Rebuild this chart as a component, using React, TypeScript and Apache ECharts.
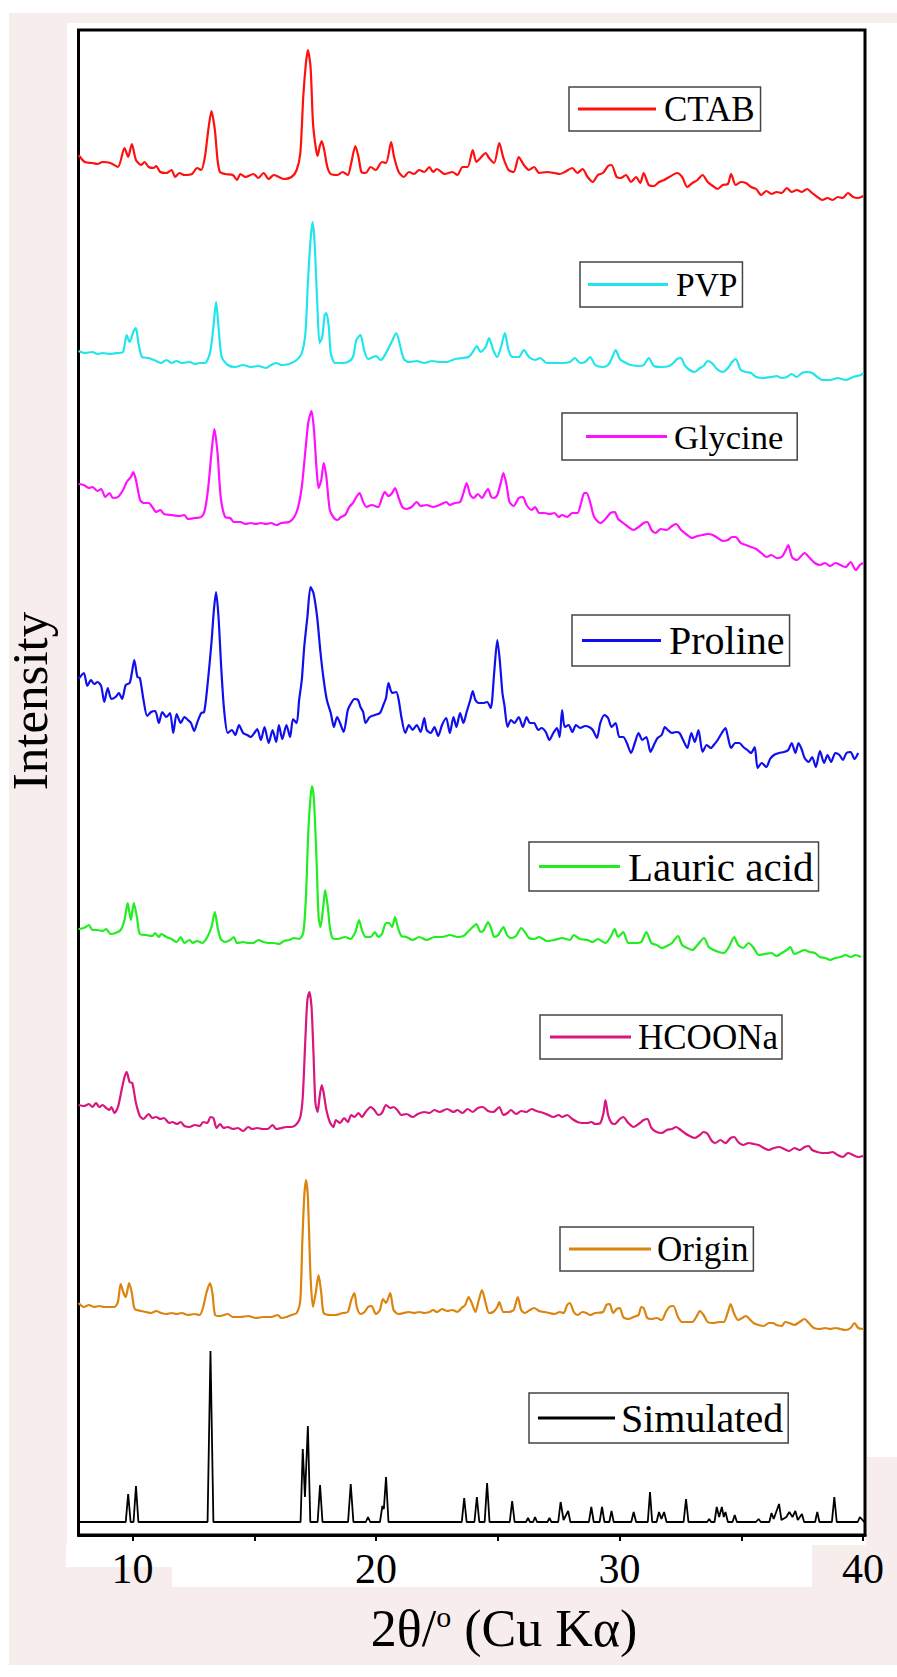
import React, { useEffect, useRef } from "react";
import * as echarts from "echarts";

// ---------- data (2θ in degrees, intensity in arbitrary stacked units) ----------
const seriesNames = ["CTAB", "PVP", "Glycine", "Proline", "Lauric acid", "HCOONa", "Origin", "Simulated"];
const seriesColors = ["#ff1010", "#20e6ec", "#ff10ff", "#1010ee", "#20ee20", "#d8177e", "#dc8410", "#000000"];

const xTickValues = [10, 15, 20, 25, 30, 35, 40];
const xLabelValues = [10, 20, 30, 40];

const ctab = [[7.78,1382],[8.04,1375],[8.35,1374],[8.56,1373],[8.77,1375],[9.09,1374],[9.40,1370],[9.67,1389],[9.82,1380],[9.97,1393],[10.14,1377],[10.35,1372],[10.49,1375],[10.66,1370],[10.87,1369],[10.97,1371],[11.14,1365],[11.39,1364],[11.60,1367],[11.75,1360],[11.92,1364],[12.13,1362],[12.44,1363],[12.65,1369],[12.82,1367],[12.97,1380],[13.11,1407],[13.24,1426],[13.38,1407],[13.49,1377],[13.59,1365],[13.80,1363],[14.12,1362],[14.29,1357],[14.43,1363],[14.64,1360],[14.96,1363],[15.17,1359],[15.38,1364],[15.59,1358],[15.80,1362],[16.01,1360],[16.22,1358],[16.53,1360],[16.74,1367],[16.89,1384],[17.01,1440],[17.12,1474],[17.20,1487],[17.31,1470],[17.41,1414],[17.52,1390],[17.60,1381],[17.68,1390],[17.77,1396],[17.87,1387],[18.00,1370],[18.14,1363],[18.42,1362],[18.63,1365],[18.84,1362],[18.98,1374],[19.15,1391],[19.28,1380],[19.40,1365],[19.57,1364],[19.78,1370],[19.99,1367],[20.24,1375],[20.41,1374],[20.62,1395],[20.74,1380],[20.93,1365],[21.14,1360],[21.35,1365],[21.56,1363],[21.77,1367],[21.98,1365],[22.19,1370],[22.34,1365],[22.50,1368],[22.82,1363],[23.13,1365],[23.34,1362],[23.55,1370],[23.76,1370],[23.97,1387],[24.12,1375],[24.29,1379],[24.50,1384],[24.64,1379],[24.85,1374],[25.06,1394],[25.23,1379],[25.44,1367],[25.65,1365],[25.86,1380],[26.07,1372],[26.28,1367],[26.49,1370],[26.70,1364],[27.01,1365],[27.33,1364],[27.54,1363],[27.75,1365],[28.06,1369],[28.27,1364],[28.48,1368],[28.69,1360],[28.90,1355],[29.11,1362],[29.32,1364],[29.53,1371],[29.67,1372],[29.88,1360],[30.05,1359],[30.26,1362],[30.47,1355],[30.68,1360],[30.85,1354],[30.99,1364],[31.20,1352],[31.41,1351],[31.62,1355],[31.83,1357],[32.04,1360],[32.36,1364],[32.57,1360],[32.78,1350],[32.99,1354],[33.20,1357],[33.41,1362],[33.62,1355],[33.83,1351],[34.03,1348],[34.24,1352],[34.45,1353],[34.58,1363],[34.77,1352],[34.98,1355],[35.19,1354],[35.40,1350],[35.61,1348],[35.82,1342],[36.03,1346],[36.24,1343],[36.45,1345],[36.66,1344],[36.87,1349],[37.07,1345],[37.28,1347],[37.49,1345],[37.70,1348],[37.91,1344],[38.12,1340],[38.33,1337],[38.54,1339],[38.75,1337],[38.96,1340],[39.17,1339],[39.38,1344],[39.59,1340],[39.80,1339],[40.01,1341]];

const pvp = [[7.78,1186],[8.04,1184],[8.35,1185],[8.56,1183],[8.77,1184],[9.09,1183],[9.40,1184],[9.61,1185],[9.76,1202],[9.88,1195],[10.03,1205],[10.14,1209],[10.24,1194],[10.39,1180],[10.66,1179],[10.97,1176],[11.18,1174],[11.39,1177],[11.60,1174],[11.81,1176],[12.02,1174],[12.34,1175],[12.55,1173],[12.76,1174],[12.97,1174],[13.18,1184],[13.32,1210],[13.43,1235],[13.53,1210],[13.66,1180],[13.91,1172],[14.22,1170],[14.54,1172],[14.85,1170],[15.17,1171],[15.48,1169],[15.69,1172],[15.90,1174],[16.11,1172],[16.43,1173],[16.74,1177],[16.95,1184],[17.10,1204],[17.20,1254],[17.31,1297],[17.39,1315],[17.47,1297],[17.58,1237],[17.68,1194],[17.79,1200],[17.89,1222],[17.96,1224],[18.06,1210],[18.14,1184],[18.31,1174],[18.52,1174],[18.84,1175],[19.05,1180],[19.19,1197],[19.36,1202],[19.51,1187],[19.67,1178],[19.88,1180],[19.99,1181],[20.20,1177],[20.41,1184],[20.62,1194],[20.83,1204],[21.00,1190],[21.14,1178],[21.35,1175],[21.67,1176],[21.98,1174],[22.30,1176],[22.61,1175],[22.92,1175],[23.24,1178],[23.55,1179],[23.80,1180],[23.97,1185],[24.14,1191],[24.29,1185],[24.50,1190],[24.64,1199],[24.81,1187],[24.98,1180],[25.13,1190],[25.29,1204],[25.44,1187],[25.61,1180],[25.86,1180],[26.07,1187],[26.28,1180],[26.53,1177],[26.74,1179],[27.01,1174],[27.33,1174],[27.64,1174],[27.96,1175],[28.17,1179],[28.38,1174],[28.59,1175],[28.79,1180],[29.00,1172],[29.32,1170],[29.53,1172],[29.67,1178],[29.84,1187],[30.01,1178],[30.26,1174],[30.47,1172],[30.78,1171],[30.99,1172],[31.20,1179],[31.41,1171],[31.73,1170],[32.04,1171],[32.25,1175],[32.36,1178],[32.52,1179],[32.67,1172],[32.88,1167],[33.09,1165],[33.30,1169],[33.45,1171],[33.62,1176],[33.79,1174],[34.00,1168],[34.24,1165],[34.45,1169],[34.62,1175],[34.77,1178],[34.98,1167],[35.19,1165],[35.40,1164],[35.61,1160],[35.92,1159],[36.24,1160],[36.45,1161],[36.66,1159],[36.87,1160],[37.07,1163],[37.28,1160],[37.49,1164],[37.70,1165],[37.91,1164],[38.12,1160],[38.33,1157],[38.64,1157],[38.96,1159],[39.28,1157],[39.59,1160],[39.91,1162],[40.01,1164]];

const glycine = [[7.78,1053],[8.00,1052],[8.21,1049],[8.35,1050],[8.56,1046],[8.71,1048],[8.88,1040],[9.05,1044],[9.19,1039],[9.40,1040],[9.61,1047],[9.76,1055],[9.93,1060],[10.03,1065],[10.14,1057],[10.31,1037],[10.45,1034],[10.66,1034],[10.81,1030],[10.97,1025],[11.14,1027],[11.29,1023],[11.60,1022],[11.92,1021],[12.13,1022],[12.27,1018],[12.55,1019],[12.82,1020],[12.97,1027],[13.11,1050],[13.24,1084],[13.36,1108],[13.49,1084],[13.62,1040],[13.80,1020],[14.01,1019],[14.16,1015],[14.43,1015],[14.64,1013],[14.85,1014],[15.06,1013],[15.27,1014],[15.48,1013],[15.69,1014],[15.90,1012],[16.11,1014],[16.43,1015],[16.64,1020],[16.80,1030],[16.95,1050],[17.10,1087],[17.22,1115],[17.35,1126],[17.45,1107],[17.56,1067],[17.64,1049],[17.75,1057],[17.85,1074],[17.96,1060],[18.10,1027],[18.27,1019],[18.42,1017],[18.56,1020],[18.73,1022],[18.90,1030],[19.05,1034],[19.19,1040],[19.32,1044],[19.47,1035],[19.61,1030],[19.82,1032],[20.09,1030],[20.24,1039],[20.36,1045],[20.51,1041],[20.66,1044],[20.78,1049],[20.93,1039],[21.08,1030],[21.25,1028],[21.46,1030],[21.67,1035],[21.83,1031],[22.08,1032],[22.34,1030],[22.61,1032],[22.88,1035],[23.03,1032],[23.24,1034],[23.45,1035],[23.59,1044],[23.72,1054],[23.87,1042],[24.01,1039],[24.18,1043],[24.35,1039],[24.50,1045],[24.60,1048],[24.73,1040],[24.85,1039],[24.98,1042],[25.12,1054],[25.23,1064],[25.36,1052],[25.48,1035],[25.65,1031],[25.86,1039],[26.03,1040],[26.18,1032],[26.39,1027],[26.53,1030],[26.70,1024],[26.91,1024],[27.12,1023],[27.33,1024],[27.50,1020],[27.64,1022],[27.85,1020],[28.06,1024],[28.27,1024],[28.42,1034],[28.55,1044],[28.65,1044],[28.79,1035],[28.96,1020],[29.21,1014],[29.42,1018],[29.63,1024],[29.80,1025],[29.94,1018],[30.15,1014],[30.36,1010],[30.57,1007],[30.78,1010],[30.99,1014],[31.14,1015],[31.31,1007],[31.48,1004],[31.69,1008],[31.94,1007],[32.15,1011],[32.32,1013],[32.53,1007],[32.78,1002],[32.99,999],[33.20,1001],[33.41,1002],[33.62,1003],[33.83,1002],[34.03,999],[34.24,996],[34.45,997],[34.62,1000],[34.77,1000],[34.98,994],[35.19,992],[35.40,990],[35.61,988],[35.82,984],[36.03,980],[36.24,982],[36.45,979],[36.66,980],[36.83,987],[36.93,992],[37.08,980],[37.28,977],[37.60,984],[37.81,979],[38.02,974],[38.23,972],[38.44,974],[38.65,971],[38.86,974],[39.07,972],[39.28,970],[39.49,975],[39.70,967],[39.87,972],[40.01,974]];

const proline = [[7.78,858],[8.00,864],[8.14,851],[8.29,857],[8.42,853],[8.56,855],[8.71,851],[8.84,835],[8.98,849],[9.13,838],[9.30,840],[9.44,844],[9.57,838],[9.72,852],[9.88,854],[9.97,864],[10.07,877],[10.20,860],[10.30,859],[10.45,837],[10.60,821],[10.76,825],[10.93,826],[11.08,814],[11.22,825],[11.39,820],[11.54,824],[11.67,804],[11.81,823],[11.98,814],[12.13,820],[12.27,817],[12.40,814],[12.53,806],[12.65,814],[12.82,824],[12.94,825],[13.07,850],[13.24,894],[13.34,927],[13.43,945],[13.53,920],[13.64,870],[13.76,827],[13.91,804],[14.08,807],[14.22,802],[14.37,812],[14.54,804],[14.71,802],[14.85,800],[15.00,804],[15.12,808],[15.27,797],[15.42,810],[15.59,794],[15.75,807],[15.90,795],[16.01,812],[16.15,798],[16.32,812],[16.47,800],[16.59,818],[16.74,814],[16.84,837],[16.95,857],[17.05,890],[17.18,920],[17.31,950],[17.43,944],[17.58,920],[17.72,884],[17.85,857],[17.98,837],[18.14,824],[18.27,810],[18.40,820],[18.52,814],[18.67,805],[18.84,827],[18.98,834],[19.11,838],[19.26,837],[19.36,830],[19.47,825],[19.57,814],[19.74,820],[19.95,822],[20.16,824],[20.30,832],[20.41,839],[20.51,854],[20.66,844],[20.83,845],[20.93,837],[21.04,820],[21.20,804],[21.35,812],[21.50,807],[21.67,812],[21.83,805],[21.98,819],[22.08,807],[22.25,804],[22.40,810],[22.55,801],[22.71,812],[22.88,819],[23.03,804],[23.18,820],[23.30,810],[23.45,824],[23.59,814],[23.72,825],[23.87,837],[23.97,846],[24.08,837],[24.22,834],[24.39,834],[24.56,835],[24.71,829],[24.85,864],[24.98,897],[25.08,877],[25.19,844],[25.27,832],[25.40,810],[25.54,817],[25.69,814],[25.86,820],[26.03,810],[26.18,820],[26.32,814],[26.49,814],[26.66,807],[26.80,809],[26.97,805],[27.12,797],[27.28,804],[27.43,809],[27.54,800],[27.64,827],[27.75,810],[27.91,812],[28.06,805],[28.21,812],[28.38,809],[28.59,811],[28.75,810],[28.90,807],[29.07,799],[29.21,814],[29.38,822],[29.53,819],[29.67,810],[29.84,814],[29.99,800],[30.15,800],[30.30,794],[30.47,784],[30.64,795],[30.78,804],[30.93,797],[31.10,800],[31.27,785],[31.41,792],[31.56,799],[31.73,802],[31.86,810],[31.98,807],[32.15,804],[32.32,805],[32.46,804],[32.61,797],[32.78,789],[32.95,804],[33.09,795],[33.24,807],[33.41,785],[33.58,792],[33.75,789],[33.87,792],[34.03,797],[34.20,804],[34.35,809],[34.45,800],[34.58,789],[34.75,794],[34.92,794],[35.08,790],[35.25,787],[35.40,784],[35.55,790],[35.67,769],[35.84,774],[36.03,770],[36.18,778],[36.34,782],[36.55,784],[36.76,785],[36.93,787],[37.07,794],[37.22,784],[37.35,794],[37.49,787],[37.60,779],[37.77,775],[37.91,780],[38.06,770],[38.23,786],[38.40,774],[38.54,782],[38.69,775],[38.86,784],[39.03,782],[39.17,777],[39.32,784],[39.49,785],[39.65,778],[39.80,784]];

const lauric = [[7.78,608],[8.00,609],[8.21,612],[8.35,607],[8.56,607],[8.77,606],[8.92,608],[9.09,603],[9.30,604],[9.51,607],[9.67,617],[9.80,634],[9.93,617],[10.05,634],[10.18,620],[10.30,603],[10.55,602],[10.81,601],[10.93,604],[11.08,600],[11.18,603],[11.39,600],[11.60,598],[11.81,595],[11.98,600],[12.13,594],[12.34,597],[12.48,594],[12.65,596],[12.86,594],[13.07,600],[13.24,610],[13.38,625],[13.49,610],[13.62,598],[13.80,595],[14.01,597],[14.16,600],[14.29,594],[14.54,595],[14.75,594],[14.96,594],[15.17,597],[15.38,595],[15.59,594],[15.80,594],[16.01,593],[16.22,596],[16.43,597],[16.64,599],[16.84,598],[17.01,604],[17.12,640],[17.22,707],[17.31,740],[17.37,751],[17.45,737],[17.56,674],[17.64,620],[17.72,610],[17.83,630],[17.91,647],[18.02,630],[18.10,610],[18.21,599],[18.42,598],[18.73,600],[18.94,598],[19.15,605],[19.30,617],[19.42,607],[19.57,600],[19.78,600],[19.95,605],[20.09,600],[20.24,603],[20.41,614],[20.53,614],[20.66,610],[20.78,620],[20.89,610],[21.04,601],[21.25,600],[21.50,597],[21.77,600],[22.08,597],[22.40,600],[22.71,600],[23.03,602],[23.34,600],[23.59,601],[23.76,605],[23.97,610],[24.12,613],[24.29,605],[24.43,607],[24.60,615],[24.75,607],[24.85,600],[25.02,602],[25.23,610],[25.38,602],[25.54,599],[25.75,601],[25.96,609],[26.11,605],[26.28,599],[26.49,598],[26.70,600],[27.01,596],[27.33,597],[27.64,599],[27.96,597],[28.12,602],[28.38,598],[28.69,597],[28.90,595],[29.11,598],[29.42,594],[29.63,600],[29.80,608],[29.94,600],[30.15,605],[30.36,594],[30.64,594],[30.89,595],[31.10,605],[31.31,594],[31.52,592],[31.73,589],[31.94,591],[32.15,594],[32.40,601],[32.57,592],[32.78,589],[32.99,587],[33.20,592],[33.47,599],[33.66,590],[33.87,587],[34.08,585],[34.28,584],[34.49,590],[34.71,600],[34.87,592],[35.08,589],[35.30,594],[35.51,589],[35.71,582],[35.97,583],[36.24,584],[36.45,581],[36.66,584],[36.87,587],[37.01,590],[37.18,583],[37.39,585],[37.60,587],[37.81,585],[38.02,584],[38.23,580],[38.44,579],[38.65,577],[38.86,579],[39.07,580],[39.28,582],[39.49,580],[39.70,582],[39.91,580]];

const hcoona = [[7.78,432],[8.00,431],[8.21,433],[8.35,430],[8.50,434],[8.63,430],[8.77,432],[8.92,429],[9.05,427],[9.13,430],[9.26,424],[9.40,430],[9.55,447],[9.67,460],[9.76,465],[9.88,455],[9.99,454],[10.14,434],[10.30,421],[10.45,418],[10.66,423],[10.81,419],[10.97,420],[11.14,418],[11.29,419],[11.50,414],[11.64,415],[11.81,413],[11.98,415],[12.13,411],[12.34,410],[12.55,412],[12.76,411],[12.90,415],[13.07,414],[13.20,420],[13.32,419],[13.45,409],[13.59,413],[13.74,409],[13.91,410],[14.12,408],[14.33,409],[14.54,406],[14.75,410],[14.92,408],[15.12,409],[15.34,408],[15.55,408],[15.75,412],[15.90,408],[16.11,409],[16.32,410],[16.53,410],[16.74,413],[16.89,420],[16.99,440],[17.10,500],[17.18,537],[17.26,545],[17.35,530],[17.43,484],[17.51,434],[17.60,425],[17.68,440],[17.77,452],[17.85,444],[17.96,427],[18.10,415],[18.25,410],[18.35,417],[18.52,414],[18.69,419],[18.84,415],[18.98,422],[19.11,420],[19.28,424],[19.42,420],[19.57,425],[19.78,430],[19.93,427],[20.09,422],[20.24,424],[20.41,432],[20.58,429],[20.72,430],[20.87,427],[21.04,422],[21.25,423],[21.50,420],[21.71,423],[21.98,425],[22.19,424],[22.40,427],[22.61,425],[22.92,428],[23.18,425],[23.34,427],[23.55,424],[23.76,428],[23.97,425],[24.18,429],[24.39,430],[24.60,426],[24.81,425],[25.06,430],[25.23,422],[25.40,424],[25.54,427],[25.75,423],[25.96,426],[26.18,425],[26.39,428],[26.59,426],[26.87,424],[27.08,422],[27.28,420],[27.50,422],[27.64,420],[27.85,422],[28.06,418],[28.27,415],[28.48,414],[28.69,414],[28.84,415],[29.00,413],[29.21,414],[29.34,424],[29.42,437],[29.53,422],[29.67,414],[29.80,413],[30.01,418],[30.15,420],[30.36,414],[30.57,410],[30.78,413],[30.99,417],[31.14,418],[31.31,409],[31.52,405],[31.73,404],[31.94,407],[32.15,408],[32.32,410],[32.46,408],[32.67,404],[32.88,401],[33.09,399],[33.30,402],[33.45,405],[33.62,403],[33.79,396],[33.93,394],[34.14,397],[34.35,394],[34.56,399],[34.71,400],[34.87,395],[35.08,392],[35.30,394],[35.51,393],[35.71,392],[35.92,389],[36.13,387],[36.34,389],[36.55,390],[36.76,388],[36.97,386],[37.18,389],[37.39,387],[37.60,390],[37.77,391],[37.91,387],[38.12,385],[38.33,384],[38.54,384],[38.75,385],[38.96,382],[39.17,380],[39.38,384],[39.59,382],[39.80,380],[40.01,381]];

const origin = [[7.78,234],[8.00,230],[8.21,232],[8.42,230],[8.63,231],[8.84,230],[9.05,230],[9.26,230],[9.40,235],[9.51,253],[9.63,244],[9.72,240],[9.86,254],[9.97,244],[10.09,228],[10.35,226],[10.55,225],[10.76,224],[10.97,226],[11.18,224],[11.39,223],[11.60,224],[11.81,223],[12.02,224],[12.27,222],[12.55,223],[12.76,222],[12.90,230],[13.03,244],[13.18,254],[13.28,244],[13.39,222],[13.59,221],[13.91,223],[14.12,220],[14.43,220],[14.75,221],[15.06,219],[15.38,220],[15.69,220],[15.96,222],[16.11,219],[16.32,220],[16.53,222],[16.74,224],[16.89,237],[16.97,294],[17.05,340],[17.12,357],[17.20,340],[17.31,260],[17.41,230],[17.52,244],[17.64,262],[17.75,244],[17.85,224],[18.10,222],[18.35,222],[18.63,224],[18.84,225],[18.98,237],[19.11,244],[19.21,230],[19.36,223],[19.53,225],[19.67,230],[19.82,231],[19.99,223],[20.16,227],[20.28,238],[20.41,234],[20.58,244],[20.72,227],[20.93,223],[21.14,224],[21.35,225],[21.56,224],[21.77,225],[21.98,224],[22.19,225],[22.34,227],[22.50,225],[22.71,228],[22.92,226],[23.13,227],[23.34,225],[23.51,229],[23.66,232],[23.80,240],[23.93,234],[24.08,225],[24.22,237],[24.35,247],[24.50,234],[24.64,224],[24.81,225],[24.98,230],[25.06,235],[25.23,225],[25.44,225],[25.65,227],[25.82,240],[25.96,227],[26.11,224],[26.32,227],[26.49,229],[26.70,226],[26.91,225],[27.12,224],[27.33,223],[27.54,225],[27.70,224],[27.85,232],[27.96,234],[28.12,225],[28.27,222],[28.48,225],[28.63,224],[28.79,222],[29.00,224],[29.32,225],[29.46,232],[29.59,233],[29.74,224],[29.88,228],[30.01,229],[30.15,220],[30.36,218],[30.57,220],[30.78,222],[30.89,230],[30.99,229],[31.14,219],[31.31,218],[31.52,219],[31.73,217],[31.90,225],[32.04,230],[32.21,231],[32.40,220],[32.57,215],[32.78,215],[32.99,215],[33.15,220],[33.30,226],[33.45,222],[33.62,215],[33.87,214],[34.08,215],[34.28,215],[34.45,225],[34.56,233],[34.71,223],[34.87,217],[35.04,219],[35.19,221],[35.33,218],[35.50,214],[35.71,212],[35.92,211],[36.13,214],[36.30,214],[36.45,212],[36.66,211],[36.80,215],[36.97,214],[37.18,212],[37.39,215],[37.60,218],[37.77,214],[37.98,209],[38.23,208],[38.44,209],[38.65,208],[38.86,209],[39.07,208],[39.28,207],[39.49,209],[39.65,214],[39.80,209],[40.01,208]];

const simulated = [[7.78,15],[9.72,15],[9.82,43],[9.92,15],[10.04,15],[10.14,51],[10.24,15],[13.08,15],[13.20,186],[13.32,15],[16.90,15],[16.99,88],[17.08,40],[17.20,111],[17.30,15],[17.60,15],[17.70,52],[17.80,15],[18.85,15],[18.96,53],[19.07,15],[19.58,15],[19.67,20],[19.76,15],[20.16,15],[20.26,31],[20.32,28],[20.41,60],[20.51,15],[23.52,15],[23.62,39],[23.72,15],[24.04,15],[24.14,40],[24.24,15],[24.46,15],[24.56,54],[24.66,15],[25.49,15],[25.59,36],[25.69,15],[26.16,15],[26.24,19],[26.32,15],[26.45,15],[26.53,20],[26.61,15],[27.04,15],[27.12,19],[27.20,15],[27.48,15],[27.58,35],[27.70,17],[27.89,26],[27.98,15],[28.74,15],[28.84,30],[28.94,15],[29.18,15],[29.28,30],[29.38,15],[29.58,15],[29.67,26],[29.76,15],[30.48,15],[30.58,25],[30.68,15],[31.16,15],[31.25,45],[31.34,15],[31.52,15],[31.62,25],[31.72,18],[31.83,25],[31.93,15],[32.63,15],[32.73,38],[32.83,15],[33.60,15],[33.68,18],[33.76,15],[33.90,15],[33.99,30],[34.09,20],[34.20,30],[34.28,20],[34.35,25],[34.45,15],[34.64,15],[34.73,22],[34.82,15],[35.60,15],[35.71,18],[35.80,15],[36.15,15],[36.24,24],[36.33,18],[36.55,33],[36.65,17],[36.85,20],[36.97,25],[37.10,20],[37.22,26],[37.32,17],[37.49,23],[37.58,15],[38.03,15],[38.12,25],[38.21,15],[38.72,15],[38.82,40],[38.92,15],[39.78,15],[39.87,20],[40.05,15]];

const seriesData = [ctab, pvp, glycine, proline, lauric, hcoona, origin, simulated];

// ---------- layout (legend boxes, one per trace) ----------
const legendLayout = [
  { left: 569, top: 87, line: 78, fs: 35, pad: [4.5, 6, 4.5, 9], gap: 3 },
  { left: 580, top: 262, line: 80, fs: 33.5, pad: [5.5, 5, 5.5, 8], gap: 3 },
  { left: 562, top: 413, line: 81, fs: 34.5, pad: [6, 14, 6, 24], gap: 2 },
  { left: 572, top: 615, line: 79, fs: 40, pad: [5.5, 5, 5.5, 10], gap: 3 },
  { left: 529, top: 842, line: 81, fs: 41, pad: [4, 5, 4, 10], gap: 3 },
  { left: 540, top: 1015, line: 81, fs: 35, pad: [4.5, 4, 4.5, 10], gap: 2 },
  { left: 560, top: 1227, line: 82, fs: 35, pad: [4.5, 5, 4.5, 9], gap: 1 },
  { left: 529, top: 1393, line: 77, fs: 40, pad: [5, 5, 5, 9], gap: 1 },
];

const FONT = "Liberation Serif";
const PINK = "#f8eded";

const whitePatches = [
  { l: 0, t: 0, w: 897, h: 13 },
  { l: 0, t: 0, w: 9, h: 1677 },
  { l: 67, t: 23, w: 799, h: 1522 },
  { l: 866, t: 23, w: 31, h: 1434 },
  { l: 66, t: 1545, w: 106, h: 22 },
  { l: 172, t: 1545, w: 640, h: 42 },
  { l: 0, t: 1665, w: 897, h: 12 },
];

export default function App() {
  const ref = useRef<HTMLDivElement>(null);

  useEffect(() => {
    document.body.style.margin = "0";
    const chart = echarts.init(ref.current as HTMLDivElement, null, { renderer: "svg" });
    chart.setOption({
      animation: false,
      backgroundColor: "transparent",
      grid: {
        left: 78.5,
        top: 30,
        width: 786.5,
        height: 1505,
        show: true,
        borderColor: "#000",
        borderWidth: 3,
        backgroundColor: "#ffffff",
      },
      xAxis: {
        type: "value",
        min: 7.78,
        max: 40.08,
        axisLine: { show: true, onZero: false, lineStyle: { color: "#000", width: 3 } },
        axisTick: { show: true, inside: false, length: 6, lineStyle: { color: "#000", width: 2 }, customValues: xTickValues },
        axisLabel: { customValues: xLabelValues, fontFamily: FONT, fontSize: 42, color: "#000", margin: 13 },
        splitLine: { show: false },
      },
      yAxis: {
        type: "value",
        min: 2,
        max: 1507,
        show: false,
        splitLine: { show: false },
      },
      legend: seriesNames.map((name, i) => ({
        data: [name],
        left: legendLayout[i].left,
        top: legendLayout[i].top,
        orient: "horizontal",
        icon: "rect",
        itemWidth: legendLayout[i].line,
        itemHeight: 3,
        padding: legendLayout[i].pad,
        borderColor: "#444",
        borderWidth: 1.5,
        backgroundColor: "#fff",
        selectedMode: false,
        textStyle: {
          fontFamily: FONT,
          fontSize: legendLayout[i].fs,
          color: "#000",
          padding: [0, 0, 0, legendLayout[i].gap],
        },
      })),
      graphic: [
        {
          type: "text",
          x: 504,
          y: 1628,
          style: {
            text: "2θ/{s|o} (Cu Kα)",
            fontFamily: FONT,
            fontSize: 52,
            fill: "#000",
            align: "center",
            verticalAlign: "middle",
            rich: { s: { fontFamily: FONT, fontSize: 30, padding: [0, 0, 24, 0], fill: "#000" } },
          },
        },
        {
          type: "text",
          x: 30,
          y: 701,
          rotation: Math.PI / 2,
          style: {
            text: "Intensity",
            fontFamily: FONT,
            fontSize: 51,
            fill: "#000",
            align: "center",
            verticalAlign: "middle",
          },
        },
      ],
      series: seriesNames.map((name, i) => ({
        name,
        type: "line",
        data: seriesData[i],
        showSymbol: false,
        symbol: "none",
        smooth: i === 7 ? false : 0.25,
        clip: true,
        color: seriesColors[i],
        itemStyle: { color: seriesColors[i] },
        lineStyle: { color: seriesColors[i], width: i === 7 ? 1.8 : 2.2 },
        emphasis: { disabled: true },
      })),
    });
    return () => chart.dispose();
  }, []);

  return (
    <div style={{ position: "relative", width: 897, height: 1677, background: PINK, overflow: "hidden" }}>
      {whitePatches.map((p, i) => (
        <div key={i} style={{ position: "absolute", left: p.l, top: p.t, width: p.w, height: p.h, background: "#fff" }} />
      ))}
      <div ref={ref} style={{ position: "absolute", left: 0, top: 0, width: 897, height: 1677 }} />
    </div>
  );
}
